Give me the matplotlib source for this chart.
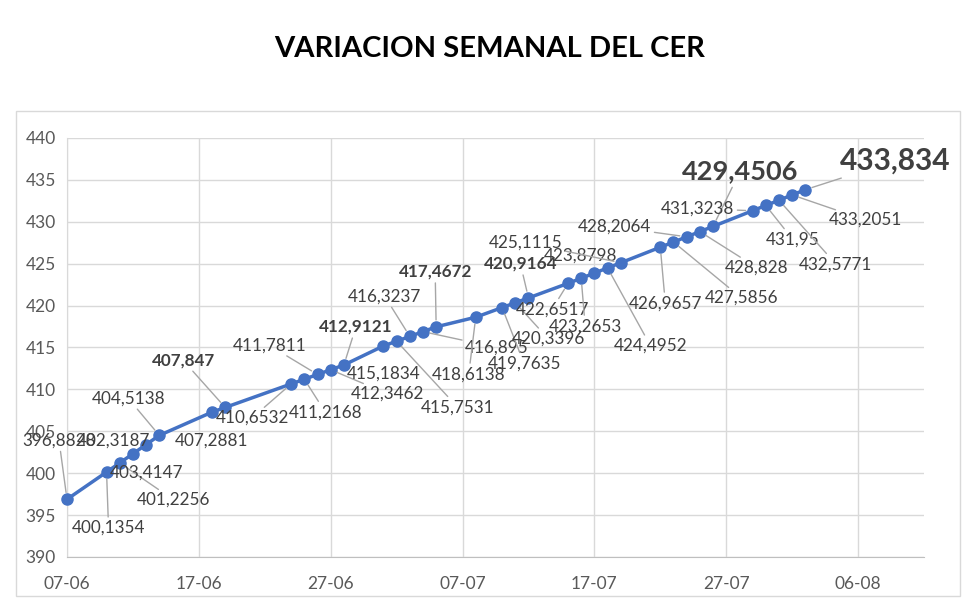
import matplotlib
matplotlib.use("Agg")
import matplotlib.pyplot as plt
import matplotlib.dates as mdates
import pandas as pd
import numpy as np
from matplotlib.patches import Rectangle

# ---------------- data ----------------
dates = pd.to_datetime([
    "2024-06-07", "2024-06-10", "2024-06-11", "2024-06-12", "2024-06-13", "2024-06-14",
    "2024-06-18", "2024-06-19", "2024-06-24", "2024-06-25", "2024-06-26", "2024-06-27",
    "2024-06-28", "2024-07-01", "2024-07-02", "2024-07-03", "2024-07-04", "2024-07-05",
    "2024-07-08", "2024-07-10", "2024-07-11", "2024-07-12", "2024-07-15", "2024-07-16",
    "2024-07-17", "2024-07-18", "2024-07-19", "2024-07-22", "2024-07-23", "2024-07-24",
    "2024-07-25", "2024-07-26", "2024-07-29", "2024-07-30", "2024-07-31", "2024-08-01",
    "2024-08-02",
])
cer_values = [
    396.8828, 400.1354, 401.2256, 402.3187, 403.4147, 404.5138,
    407.2881, 407.847, 410.6532, 411.2168, 411.7811, 412.3462,
    412.9121, 415.1834, 415.7531, 416.3237, 416.895, 417.4672,
    418.6138, 419.7635, 420.3396, 420.9164, 422.6517, 423.2653,
    423.8798, 424.4952, 425.1115, 426.9657, 427.5856, 428.2064,
    428.828, 429.4506, 431.3238, 431.95, 432.5771, 433.2051,
    433.834,
]
title = "VARIACION SEMANAL DEL CER"
x_ticks = pd.date_range("2024-06-07", periods=7, freq="10D")
y_ticks = [390, 395, 400, 405, 410, 415, 420, 425, 430, 435, 440]

# ---------------- styles / label layout ----------------
W, H = 980, 614
FONT = "Lato"
LINE_C = "#4472C4"
TXT_C = "#404040"
GRID_C = "#d9d9d9"

# label offsets in screen pixels (dx right, dy down)
label_offsets = [
    (-8, -59), (2, 56), (54, 37), (-19, -13), (0, 28), (-31, -37),
    (0, 28), (-42, -47), (-39, 34), (21, 33), (-48, -29), (57, 24),
    (12, -38), (0, 28), (61, 66), (-25, -40), (74, 16), (-1, -55),
    (-7, 57), (22, 56), (33, 36), (-8, -34), (-16, 26), (4, 48),
    (-14, -17), (43, 78), (-95, -20), (5, 56), (68, 56), (-72, -10),
    (57, 36), (27, -55), (-55, -2), (27, 34), (57, 64), (73, 25),
    (90, -29),
]
bold_sizes = {7: 12.3, 12: 12.3, 17: 12.3, 21: 12.3, 31: 19.5, 36: 21.5}

fig = plt.figure(figsize=(W / 100, H / 100), dpi=100)
fig.patch.set_facecolor("white")

# chart border
fig.add_artist(Rectangle((16 / W, 1 - 596 / H), (960 - 16) / W, (596 - 111) / H,
                         transform=fig.transFigure, fill=False, ec=GRID_C, lw=1))

fig.text(0.5, 1 - 49 / H, title, ha="center", va="center", fontsize=21,
         fontweight="bold", family=FONT, color="black")

L, R, T, B = 67, 924, 138, 557
ax = fig.add_axes([L / W, 1 - B / H, (R - L) / W, (B - T) / H])
ax.set_xlim(pd.Timestamp("2024-06-07"), pd.Timestamp("2024-08-11"))
ax.set_ylim(390, 440)
ax.set_yticks(y_ticks)
ax.set_xticks(x_ticks)
ax.xaxis.set_major_formatter(mdates.DateFormatter("%d-%m"))
ax.grid(True, color=GRID_C, lw=1)
ax.set_axisbelow(True)
for s in ["top", "right"]:
    ax.spines[s].set_visible(False)
ax.spines["left"].set_color(GRID_C)
ax.spines["bottom"].set_color("#bfbfbf")
ax.tick_params(length=0, labelsize=12.5, colors="#595959")
ax.tick_params(axis="y", pad=8)
ax.tick_params(axis="x", pad=14)
for lab in ax.get_xticklabels() + ax.get_yticklabels():
    lab.set_family(FONT)

ax.plot(dates, cer_values, color=LINE_C, lw=2.5, marker="o", ms=8,
        mfc=LINE_C, mec=LINE_C, zorder=3, clip_on=False)

for i, (d, v) in enumerate(zip(dates, cer_values)):
    dx, dy = label_offsets[i]
    txt = repr(v).replace(".", ",")
    size = bold_sizes.get(i, 12.3)
    weight = "bold" if i in bold_sizes else "normal"
    arrow = None
    if np.hypot(dx, dy) > 29:
        arrow = dict(arrowstyle="-", color="#a6a6a6", lw=1, shrinkA=1, shrinkB=5)
    ax.annotate(txt, xy=(d, v), xytext=(dx, -dy), textcoords="offset pixels",
                ha="center", va="center", fontsize=size, fontweight=weight,
                family=FONT, color=TXT_C, zorder=4, annotation_clip=False,
                bbox=dict(boxstyle="square,pad=0.1", fc="none", ec="none"),
                arrowprops=arrow)

fig.savefig("out.png", dpi=100)
